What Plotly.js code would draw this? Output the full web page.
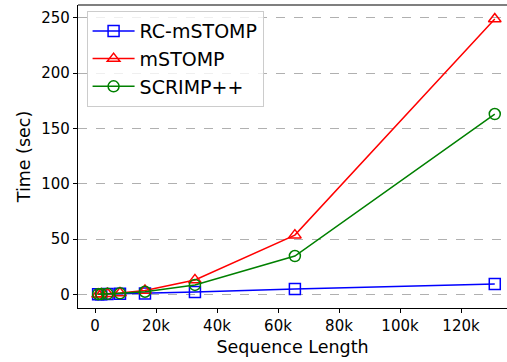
<!DOCTYPE html>
<html><head><meta charset="utf-8">
<script src="https://cdn.plot.ly/plotly-3.0.1.min.js"></script>
<style>html,body{margin:0;padding:0;overflow:hidden;background:#fff}</style>
</head><body><div id="chart" style="width:507px;height:362px"></div>
<script>
const seqLength = [1024, 2048, 4096, 8192, 16384, 32768, 65536, 131072];
const rcMstomp = [0.05, 0.1, 0.2, 0.4, 0.8, 2.0, 4.8, 9.3];
const mstomp = [0.1, 0.2, 0.5, 1.2, 3.5, 13.0, 53.5, 249.0];
const scrimp = [0.1, 0.2, 0.4, 0.9, 2.3, 8.5, 34.6, 163.0];
const seriesNames = ['RC-mSTOMP', 'mSTOMP', 'SCRIMP++'];
const xTickVals = [0, 20000, 40000, 60000, 80000, 100000, 120000];
const xTickText = ['0', '20k', '40k', '60k', '80k', '100k', '120k'];
const yTickVals = [0, 50, 100, 150, 200, 250];

const font = 'DejaVu Sans, sans-serif';
function tr(y, name, color, symbol, g) {
  return {x: seqLength, y: y, name: name, type: 'scatter', mode: 'lines+markers',
    legendgroup: g,
    line: {color: color, width: 1.5},
    marker: {symbol: symbol, size: 11, color: color, line: {color: color, width: 1.5}}};
}
const data = [
  tr(rcMstomp, seriesNames[0], '#0000ff', 'square-open', 'a'),
  tr(mstomp, seriesNames[1], '#ff0000', 'triangle-up-open', 'b'),
  tr(scrimp, seriesNames[2], '#008000', 'circle-open', 'c')
];
const layout = {
  width: 507, height: 362,
  margin: {l: 78, r: 0, t: 4.5, b: 54, pad: 0},
  paper_bgcolor: '#fff', plot_bgcolor: '#fff',
  font: {family: font, color: '#000', size: 15},
  showlegend: true,
  legend: {x: 0.02, y: 0.98, xanchor: 'left', yanchor: 'top',
    bgcolor: 'rgba(255,255,255,0.8)', bordercolor: '#cccccc', borderwidth: 1,
    font: {family: font, size: 19}, tracegroupgap: 0, itemwidth: 42},
  xaxis: {range: [-5574, 135082], tickvals: xTickVals, ticktext: xTickText,
    showgrid: false, zeroline: false, showline: true, linecolor: '#000', linewidth: 1.2,
    ticks: 'outside', ticklen: 4, tickwidth: 1, tickcolor: '#000',
    title: {text: 'Sequence Length', font: {family: font, size: 17.5}, standoff: 6}},
  yaxis: {range: [-12.4, 261.6], tickvals: yTickVals,
    showgrid: true, gridcolor: '#b0b0b0', griddash: 'dash', gridwidth: 1,
    zeroline: false, showline: true, linecolor: '#000', linewidth: 1.2,
    ticks: 'outside', ticklen: 4, tickwidth: 1, tickcolor: '#000',
    title: {text: 'Time (sec)', font: {family: font, size: 17.5}, standoff: 6}},
  shapes: [{type: 'line', xref: 'paper', yref: 'paper', x0: 0, x1: 1, y0: 1, y1: 1,
    line: {color: '#000', width: 1.2}}]
};
Plotly.newPlot('chart', data, layout, {displayModeBar: false, staticPlot: true});
</script></body></html>
